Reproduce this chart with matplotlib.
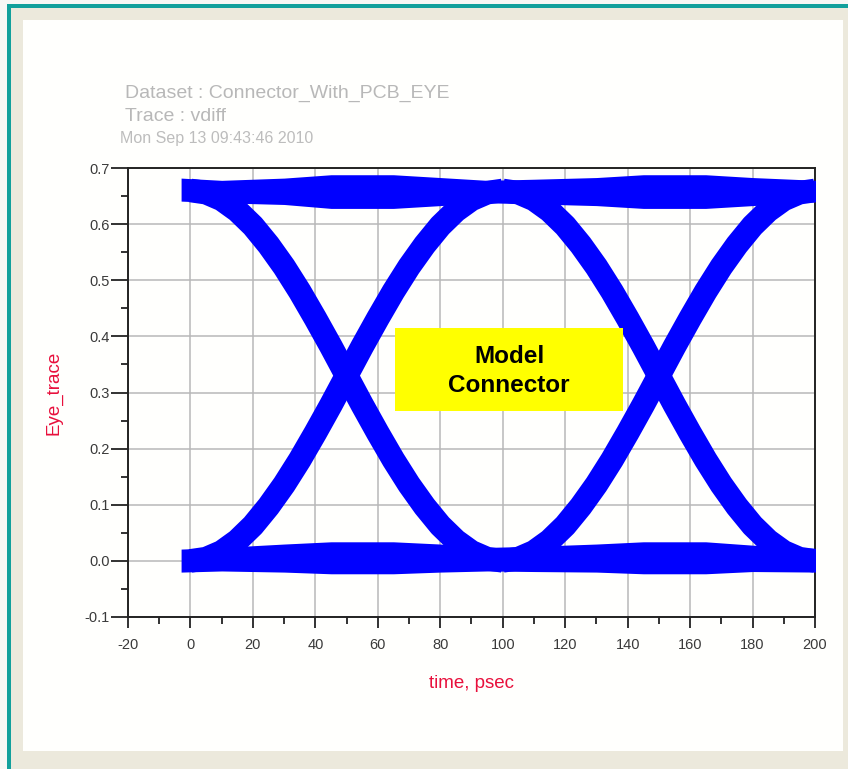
import matplotlib
matplotlib.use("Agg")
import matplotlib.pyplot as plt
from matplotlib.patches import Rectangle

# eye diagram of vdiff, folded over two unit intervals (psec / volts)
band_t = [-3, 10, 30, 45, 65, 80, 95, 110, 130, 145, 165, 180, 201]
high_upper = [0.682, 0.678, 0.682, 0.688, 0.688, 0.683, 0.678, 0.680, 0.683, 0.688, 0.688, 0.683, 0.678]
high_lower = [0.641, 0.638, 0.635, 0.628, 0.628, 0.633, 0.638, 0.636, 0.633, 0.628, 0.628, 0.633, 0.640]
low_upper = [0.021, 0.024, 0.030, 0.034, 0.034, 0.030, 0.024, 0.026, 0.030, 0.034, 0.034, 0.028, 0.022]
low_lower = [-0.020, -0.018, -0.020, -0.023, -0.023, -0.020, -0.018, -0.019, -0.020, -0.023, -0.023, -0.019, -0.020]

# one bit transition, time within the unit interval
edge_t = [0, 5, 10, 15, 20, 25, 30, 35, 40, 45, 50, 55, 60, 65, 70, 75, 80, 85, 90, 95, 100]
edge_fall = [0.660, 0.656, 0.644, 0.624, 0.597, 0.563, 0.524, 0.480, 0.432, 0.382, 0.330,
             0.278, 0.228, 0.180, 0.136, 0.097, 0.063, 0.036, 0.016, 0.004, 0.000]
edge_rise = [0.000, 0.004, 0.016, 0.036, 0.063, 0.097, 0.136, 0.180, 0.228, 0.278, 0.330,
             0.382, 0.432, 0.480, 0.524, 0.563, 0.597, 0.624, 0.644, 0.656, 0.660]
ui_start = [0, 100]

xticks = [-20, 0, 20, 40, 60, 80, 100, 120, 140, 160, 180, 200]
yticks = [-0.1, 0.0, 0.1, 0.2, 0.3, 0.4, 0.5, 0.6, 0.7]
ytick_labels = ["-0.1", "0.0", "0.1", "0.2", "0.3", "0.4", "0.5", "0.6", "0.7"]

W, H = 848, 769
BLUE = "#0000ff"
plt.rcParams["font.family"] = ["Liberation Sans", "DejaVu Sans"]
plt.rcParams["axes.unicode_minus"] = False

fig = plt.figure(figsize=(W / 100, H / 100), dpi=100)
fig.patch.set_facecolor("#ece9dc")


def box(x0, y0, x1, y1, color, z=0):
    fig.add_artist(Rectangle((x0 / W, 1 - y1 / H), (x1 - x0) / W, (y1 - y0) / H,
                             transform=fig.transFigure, facecolor=color,
                             edgecolor="none", zorder=z))


box(0, 0, 7, H, "#f7f7f5")
box(0, 0, W, 4, "#f7f7f5")
box(7, 4, 10.5, H, "#12a09c")
box(7, 4, W, 7.5, "#12a09c")
box(23, 20, 843, 751, "#fffffd")

ax = fig.add_axes([128 / W, 1 - 617 / H, (815 - 128) / W, (617 - 168) / H])
ax.set_facecolor("none")

ax.fill_between(band_t, high_lower, high_upper, color=BLUE, lw=0, zorder=3)
ax.fill_between(band_t, low_lower, low_upper, color=BLUE, lw=0, zorder=3)
for t0 in ui_start:
    ts = [t0 + t for t in edge_t]
    ax.plot(ts, edge_fall, color=BLUE, lw=17, solid_capstyle="butt", zorder=3)
    ax.plot(ts, edge_rise, color=BLUE, lw=17, solid_capstyle="butt", zorder=3)

ax.set_xlim(-20, 200)
ax.set_ylim(-0.1, 0.7)
ax.set_xticks(xticks)
ax.set_xticks(range(-10, 200, 20), minor=True)
ax.set_yticks(yticks)
ax.set_yticklabels(ytick_labels)
ax.set_yticks([-0.05, 0.05, 0.15, 0.25, 0.35, 0.45, 0.55, 0.65], minor=True)
ax.set_axisbelow(True)
ax.grid(True, which="major", color="#b8b8b8", lw=1.1)
ax.tick_params(which="major", length=8, width=1.3, color="#222222",
               labelsize=10.5, labelcolor="#3a3a3a")
ax.tick_params(axis="y", which="major", length=12, pad=1)
ax.tick_params(axis="x", which="major", pad=7)
ax.tick_params(which="minor", length=5, width=1.3, color="#222222")
for s in ax.spines.values():
    s.set_linewidth(1.4)
    s.set_color("#222222")

ax.set_xlabel("time, psec", color="#e8103c", fontsize=13.5, labelpad=17)
ax.set_ylabel("Eye_trace", color="#e8103c", fontsize=13.5, labelpad=16)

fig.text(125 / W, 1 - 98 / H, "Dataset : Connector_With_PCB_EYE", color="#b8b8b8",
         fontsize=14, va="baseline")
fig.text(125 / W, 1 - 121 / H, "Trace : vdiff", color="#b8b8b8",
         fontsize=14, va="baseline")
fig.text(120 / W, 1 - 143 / H, "Mon Sep 13 09:43:46 2010", color="#bdbdbd",
         fontsize=11.5, va="baseline")

box(395, 328, 623, 411, "#ffff00", z=5)
fig.text(509 / W, 1 - 371 / H, "Model\nConnector", ha="center", va="center",
         fontsize=17.5, fontweight="bold", color="black", linespacing=1.3, zorder=6)

fig.savefig("out.png", dpi=100, facecolor=fig.get_facecolor())
